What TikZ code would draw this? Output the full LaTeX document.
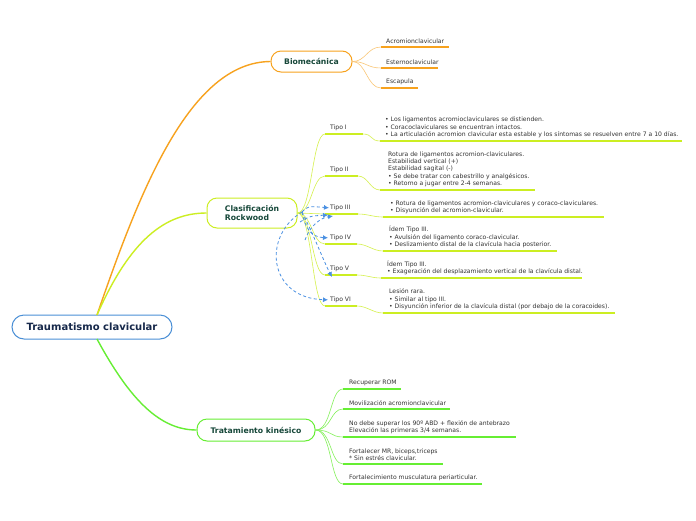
\documentclass[tikz,border=0pt]{standalone}
\usepackage{fontspec}
\setmainfont{DejaVu Sans}
\usetikzlibrary{arrows.meta}
\definecolor{org}{HTML}{F7A21E}
\definecolor{ygr}{HTML}{CCEE22}
\definecolor{grn}{HTML}{66EE33}
\definecolor{blu}{HTML}{4A8FD6}
\definecolor{dgr}{HTML}{17483A}
\definecolor{nav}{HTML}{16284A}
\definecolor{txt}{HTML}{333333}
\definecolor{rel}{HTML}{4A90E2}
\tikzset{
  mainbox/.style={draw=blu, line width=1pt, rounded corners=12pt, fill=white, minimum width=160pt, minimum height=24pt, font=\fontsize{10}{12}\selectfont\bfseries, text=nav},
  topic/.style={draw=#1, line width=1pt, rounded corners=10pt, fill=white, font=\fontsize{7.7}{9.2}\selectfont\bfseries, text=dgr, align=left},
  sub/.style={anchor=south west, inner sep=0pt, font=\fontsize{6.1}{7.3}\selectfont, text=txt, align=left},
  branch/.style={line width=1.4pt, #1},
  twig/.style={line width=0.6pt, #1},
  uline/.style={line width=1.6pt, #1},
  relation/.style={rel, dashed, dash pattern=on 3pt off 2.5pt, line width=0.8pt, -{Latex[length=5pt,width=5pt]}}
}
\begin{document}
\begin{tikzpicture}[x=1pt,y=-1pt]
\useasboundingbox[fill=white] (0,0) rectangle (696,520);

% main topics
\node[mainbox] (root) at (92,327) {Traumatismo clavicular};
\node[topic=org, minimum width=81pt, minimum height=21pt] (bio) at (311.5,61.5) {Biomecánica};
\node[topic=ygr, minimum width=90pt, minimum height=30pt] (cla) at (252,213) {Clasificación\\Rockwood};
\node[topic=grn, minimum width=118pt, minimum height=22pt] (tra) at (256,430) {Tratamiento kinésico};

\coordinate (rt) at (97,315);
\coordinate (rb) at (97,339);
\draw[branch=org] (rt) .. controls (140,190) and (190,62) .. (bio.west);
\draw[branch=ygr] (rt) .. controls (130,240) and (165,213) .. (cla.west);
\draw[branch=grn] (rb) .. controls (130,400) and (160,430) .. (tra.west);

% Biomecanica subtopics
\foreach \n/\y/\xe/\t in {b1/47/449/Acromionclavicular, b2/68/438/Esternoclavicular, b3/88/418/Escapula}{
  \coordinate (\n s) at (381,\y);
  \coordinate (\n e) at (\xe,\y);
  \node[sub] (\n) at (386,\y-3) {\t};
  \draw[twig=org!60] (bio.east) .. controls (366,61.5) and (367,\y) .. (\n s);
  \draw[uline=org] (\n s) -- (\n e);
}

% Clasificacion: tipos
\foreach \n/\y/\xe/\t in {t1/134/363/Tipo I, t2/176/358/Tipo II, t3/214/358/Tipo III, t4/244/357/Tipo IV, t5/275/357/Tipo V, t6/306/357/Tipo VI}{
  \coordinate (\n s) at (325,\y);
  \coordinate (\n e) at (\xe,\y);
  \node[sub] (\n) at (330,\y-3) {\t};
  \draw[twig=ygr!80] (cla.east) .. controls (312,213) and (312,\y) .. (\n s);
  \draw[uline=ygr] (\n s) -- (\n e);
}

% Tipo details
\coordinate (d1s) at (380,141); \coordinate (d1e) at (682,141);
\node[sub] (d1) at (385,138) {• Los ligamentos acromioclaviculares se distienden.\\• Coracoclaviculares se encuentran intactos.\\• La articulación acromion clavicular esta estable y los síntomas se resuelven entre 7 a 10 días.};
\coordinate (d2s) at (380,190); \coordinate (d2e) at (535,190);
\node[sub] (d2) at (388,187) {Rotura de ligamentos acromion-claviculares.\\Estabilidad vertical (+)\\Estabilidad sagital (-)\\• Se debe tratar con cabestrillo y analgésicos.\\• Retorno a jugar entre 2-4 semanas.};
\coordinate (d3s) at (383,217); \coordinate (d3e) at (604,217);
\node[sub] (d3) at (390,214) {• Rotura de ligamentos acromion-claviculares y coraco-claviculares.\\• Disyunción del acromion-clavicular.};
\coordinate (d4s) at (383,251); \coordinate (d4e) at (557,251);
\node[sub] (d4) at (389,248) {Ídem Tipo III.\\• Avulsión del ligamento coraco-clavicular.\\• Deslizamiento distal de la clavícula hacia posterior.};
\coordinate (d5s) at (381,278); \coordinate (d5e) at (582,278);
\node[sub] (d5) at (387,275) {Ídem Tipo III.\\• Exageración del desplazamiento vertical de la clavícula distal.};
\coordinate (d6s) at (383,313); \coordinate (d6e) at (615,313);
\node[sub] (d6) at (389,310) {Lesión rara.\\• Similar al tipo III.\\• Disyunción inferior de la clavícula distal (por debajo de la coracoides).};
\foreach \i in {1,...,6}{
  \draw[twig=ygr!80] (t\i e) .. controls ([xshift=10pt]t\i e) and ([xshift=-10pt]d\i s) .. (d\i s);
  \draw[uline=ygr] (d\i s) -- (d\i e);
}

% relationships
\coordinate (rs) at (302,212);
\draw[relation] (rs) .. controls (308,206) .. ([xshift=-1pt]t3.west);
\draw[relation] (rs) .. controls (305,228) and (311,237) .. ([xshift=-2pt]t4.west);
\draw[relation] (rs) .. controls (316,240) and (324,262) .. (332,277);
\draw[relation] (305,240) .. controls (310,226) and (320,218) .. (333,216);
\draw[relation] (rs) .. controls (262,236) and (268,298) .. ([xshift=-2pt]t6.west);
\draw[relation] (300,222) .. controls (310,216) .. (328,215);

% Tratamiento subtopics
\foreach \n/\y/\xe/\t in {k1/389/401/Recuperar ROM, k2/409/450/Movilización acromionclavicular, k3/437/516/{No debe superar los 90º ABD + flexión de antebrazo\\Elevación las primeras 3/4 semanas.}, k4/464/443/{Fortalecer MR, biceps,triceps\\* Sin estrés clavicular.}, k5/484/482/Fortalecimiento musculatura periarticular.}{
  \coordinate (\n s) at (343,\y);
  \coordinate (\n e) at (\xe,\y);
  \node[sub] (\n) at (349,\y-3) {\t};
  \draw[twig=grn!80] (tra.east) .. controls (332,430) and (330,\y) .. (\n s);
  \draw[uline=grn] (\n s) -- (\n e);
}
\end{tikzpicture}
\end{document}
